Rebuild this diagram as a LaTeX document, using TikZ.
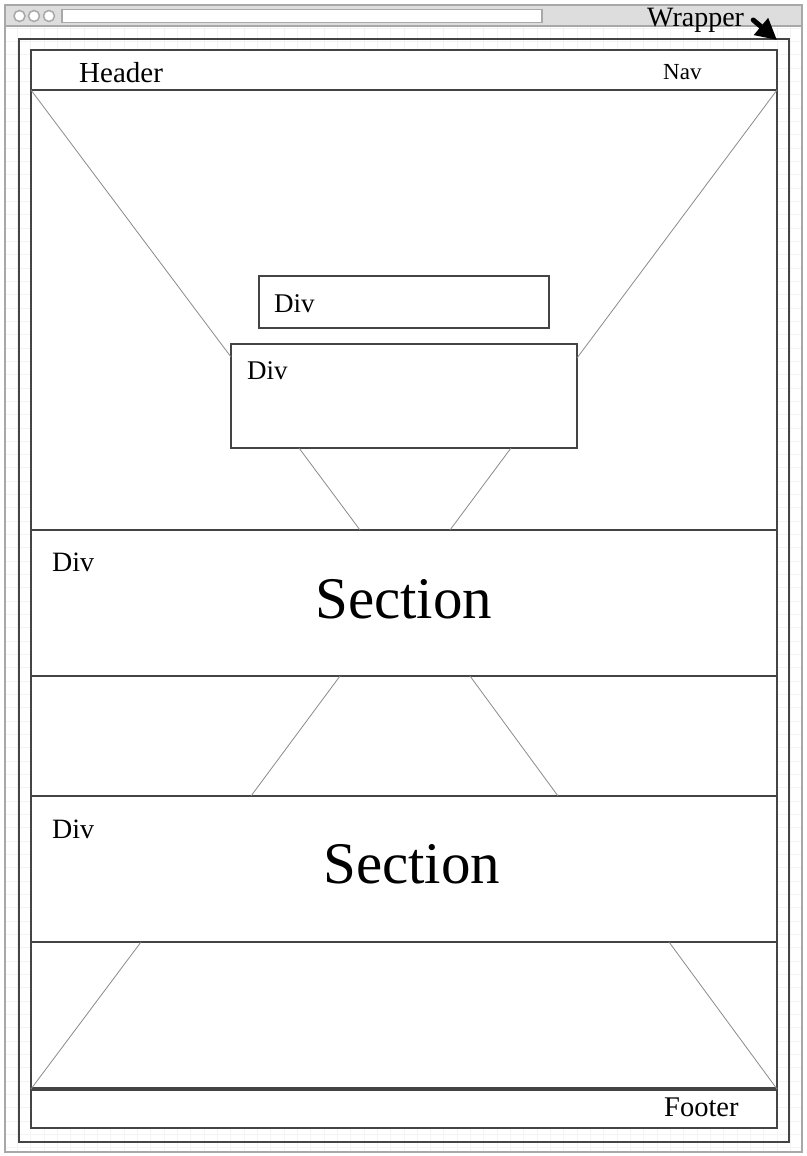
\documentclass[tikz,border=0pt]{standalone}
\usepackage{fontspec}
\setmainfont{Liberation Serif}
\usetikzlibrary{arrows.meta}
\definecolor{frm}{HTML}{444444}
\definecolor{chrome}{HTML}{DDDDDD}
\definecolor{chromeline}{HTML}{A8A8A8}
\definecolor{gridc}{HTML}{F3F3F3}
\definecolor{diag}{HTML}{8A8A8A}
\begin{document}
\begin{tikzpicture}[x=1pt,y=-1pt,
  box/.style={draw=frm, line width=2pt, inner sep=0pt, outer sep=0pt, anchor=north west},
  diagline/.style={draw=diag, line width=0.8pt},
  lbl/.style={inner sep=0pt, anchor=base west, text=black},
  gridline/.style={draw=gridc, line width=0.8pt}]
\useasboundingbox (0,0) rectangle (806,1156);
\fill[white] (0,0) rectangle (806,1156);
% grid
\foreach \i in {0,...,59} {\draw[gridline] (4+13.33*\i,27) -- (4+13.33*\i,1152);}
\foreach \j in {0,...,84} {\draw[gridline] (5,28+13.33*\j) -- (802,28+13.33*\j);}
% browser chrome
\node[draw=chromeline, line width=2pt, fill=chrome, inner sep=0pt, outer sep=0pt, anchor=north west,
      minimum width=797pt, minimum height=21pt] (titlebar) at (5,5) {};
\draw[chromeline, line width=2pt] (5,5) rectangle (802,1152);
\node[draw=chromeline, line width=1.5pt, circle, fill=white, minimum size=11pt, inner sep=0pt] (c1) at (19.5,16) {};
\node[draw=chromeline, line width=1.5pt, circle, fill=white, minimum size=11pt, inner sep=0pt] (c2) at (34,16) {};
\node[draw=chromeline, line width=1.5pt, circle, fill=white, minimum size=11pt, inner sep=0pt] (c3) at (49,16) {};
\node[draw=chromeline, line width=1.5pt, fill=white, inner sep=0pt, anchor=north west,
      minimum width=480pt, minimum height=13pt] (addr) at (61,9) {};
% wrapper and content
\node[box, minimum width=770pt, minimum height=1103pt] (wrapper) at (19,39) {};
\node[box, fill=white, minimum width=746pt, minimum height=1078pt] (content) at (31,50) {};
\node[box, minimum width=746pt, minimum height=40pt] (header) at (31,50) {};
\node[box, minimum width=746pt, minimum height=146pt] (sec1) at (31,530) {};
\node[box, minimum width=746pt, minimum height=146pt] (sec2) at (31,796) {};
\node[box, minimum width=746pt, minimum height=39pt] (footer) at (31,1089) {};
\draw[frm, line width=3.2pt] (footer.north west) -- (footer.north east);
% divs
\node[box, fill=white, minimum width=290pt, minimum height=52pt] (div1) at (259,276) {};
\node[box, fill=white, minimum width=346pt, minimum height=104pt] (div2) at (231,344) {};
% diagonal lines
\coordinate (d2l) at (231,357);
\coordinate (d2r) at (577,358);
\draw[diagline] (header.south west) -- (d2l);
\draw[diagline] (header.south east) -- (d2r);
\draw[diagline] (div2.south west) ++(68,0) coordinate (d2b1) -- (sec1.north west -| 360,0);
\draw[diagline] (div2.south west) ++(280,0) coordinate (d2b2) -- (sec1.north west -| 450,0);
\draw[diagline] (sec1.south west -| 340,0) -- (sec2.north west -| 251,0);
\draw[diagline] (sec1.south west -| 470,0) -- (sec2.north west -| 558,0);
\draw[diagline] (sec2.south west -| 141,0) -- (footer.north west);
\draw[diagline] (sec2.south west -| 669,0) -- (footer.north east);
% labels
\node[lbl, font=\fontsize{29}{30}\selectfont] (hdrtext) at (79,82) {Header};
\node[lbl, font=\fontsize{23}{24}\selectfont] (navtext) at (663,80) {Nav};
\node[lbl, font=\fontsize{27}{28}\selectfont] (div1text) at (274,312) {Div};
\node[lbl, font=\fontsize{27}{28}\selectfont] (div2text) at (247,379) {Div};
\node[lbl, font=\fontsize{28}{29}\selectfont] (s1div) at (52,571) {Div};
\node[lbl, font=\fontsize{28}{29}\selectfont] (s2div) at (52,838) {Div};
\node[lbl, font=\fontsize{59}{60}\selectfont] (s1text) at (315,618) {Section};
\node[lbl, font=\fontsize{59}{60}\selectfont] (s2text) at (323,883) {Section};
\node[lbl, font=\fontsize{28.5}{29}\selectfont] (foottext) at (664,1116) {Footer};
\node[lbl, font=\fontsize{28}{29}\selectfont] (wraplbl) at (647,27) {Wrapper};
% wrapper arrow
\coordinate (wraptip) at (777,40);
\draw[black, line width=5pt, line cap=round, -{Triangle[length=21pt,width=21pt]}]
  (wraplbl.base east) ++(9,-7) coordinate (wrapstart) -- (wraptip);
\end{tikzpicture}
\end{document}
